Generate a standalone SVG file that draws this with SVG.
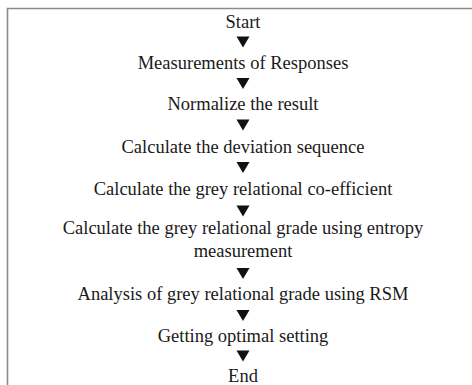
<svg xmlns="http://www.w3.org/2000/svg" width="472" height="385" viewBox="0 0 472 385">
<style>
.t{font-family:"Liberation Serif","Times New Roman",serif;font-size:18.5px;fill:#1a1a1a;text-anchor:middle}
.a{fill:#111}
</style>
<defs>
<polygon id="arr" points="-6.5,0 6.5,0 0,11"/>
</defs>
<rect x="0" y="0" width="472" height="385" fill="#fff"/>
<path d="M7.5,400 V8.5 H480" fill="none" stroke="#8a8a8a" stroke-width="1.6"/>
<g id="n1"><text class="t" x="243" y="28">Start</text></g>
<g id="n2"><text class="t" x="243" y="69">Measurements of Responses</text></g>
<g id="n3"><text class="t" x="243" y="110">Normalize the result</text></g>
<g id="n4"><text class="t" x="243" y="153">Calculate the deviation sequence</text></g>
<g id="n5"><text class="t" x="243" y="195">Calculate the grey relational co-efficient</text></g>
<g id="n6"><text class="t" x="243" y="234">Calculate the grey relational grade using entropy</text><text class="t" x="243" y="257">measurement</text></g>
<g id="n7"><text class="t" x="243" y="300">Analysis of grey relational grade using RSM</text></g>
<g id="n8"><text class="t" x="243" y="342">Getting optimal setting</text></g>
<g id="n9"><text class="t" x="243" y="382">End</text></g>
<g id="connectors" class="a">
<use href="#arr" x="243" y="36.5"/>
<use href="#arr" x="243" y="78"/>
<use href="#arr" x="243" y="119.5"/>
<use href="#arr" x="243" y="162"/>
<use href="#arr" x="243" y="205.5"/>
<use href="#arr" x="243" y="268"/>
<use href="#arr" x="243" y="310"/>
<use href="#arr" x="243" y="350.5"/>
</g>
</svg>
